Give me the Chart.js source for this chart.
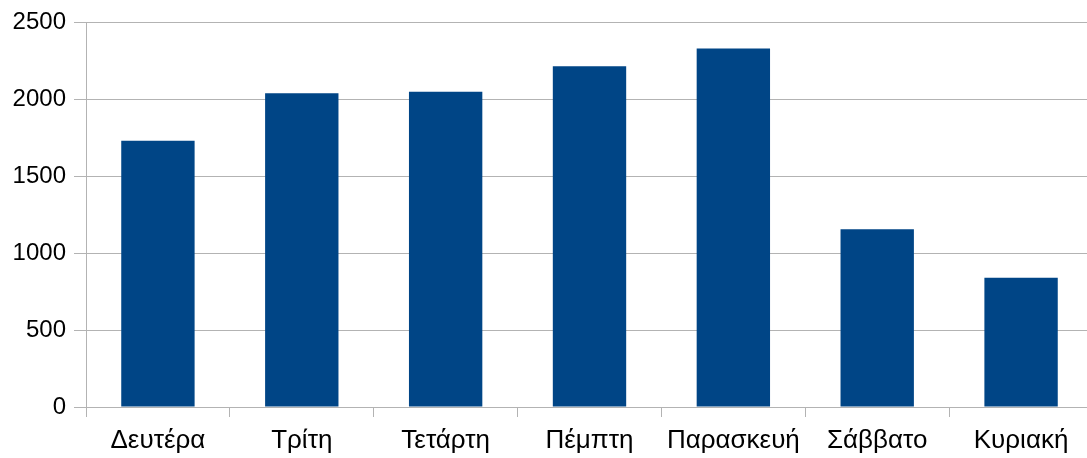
<!DOCTYPE html>
<html>
<head>
<meta charset="utf-8">
<script src="https://cdn.jsdelivr.net/npm/chart.js@4"></script>
<style>
  html, body { margin: 0; padding: 0; background: #fff; overflow: hidden; }
  #wrap { width: 1093px; height: 458px; position: relative; }
</style>
</head>
<body>
<div id="wrap"><canvas id="myChart"></canvas></div>
<script>
const days = ['Δευτέρα', 'Τρίτη', 'Τετάρτη', 'Πέμπτη', 'Παρασκευή', 'Σάββατο', 'Κυριακή'];
const counts = [1730, 2040, 2050, 2215, 2330, 1155, 840];
const yTicks = [0, 500, 1000, 1500, 2000, 2500];

const gridColor = '#b3b3b3';

const myChart = new Chart(document.getElementById('myChart'), {
  type: 'bar',
  data: {
    labels: days,
    datasets: [{
      data: counts,
      backgroundColor: '#004586',
      barPercentage: 1,
      categoryPercentage: 0.51
    }]
  },
  options: {
    responsive: true,
    maintainAspectRatio: false,
    animation: false,
    layout: { padding: { top: 20, right: 0, left: 0, bottom: 0 } },
    plugins: {
      legend: { display: false },
      tooltip: { enabled: false }
    },
    scales: {
      x: {
        grid: { drawOnChartArea: false, drawTicks: true, tickLength: 10, color: gridColor },
        border: { color: gridColor },
        ticks: { color: '#000', font: { family: 'Liberation Sans', size: 26 }, padding: 8, maxRotation: 0 },
        afterFit: s => { s.height = 51; }
      },
      y: {
        min: 0,
        max: 2500,
        afterBuildTicks: s => { s.ticks = yTicks.map(v => ({ value: v })); },
        grid: { color: gridColor, tickLength: 12 },
        border: { color: gridColor },
        ticks: { color: '#000', font: { family: 'Liberation Sans', size: 24 }, padding: 8, callback: v => String(v) },
        afterFit: s => { s.width = 86; }
      }
    }
  }
});
</script>
</body>
</html>
